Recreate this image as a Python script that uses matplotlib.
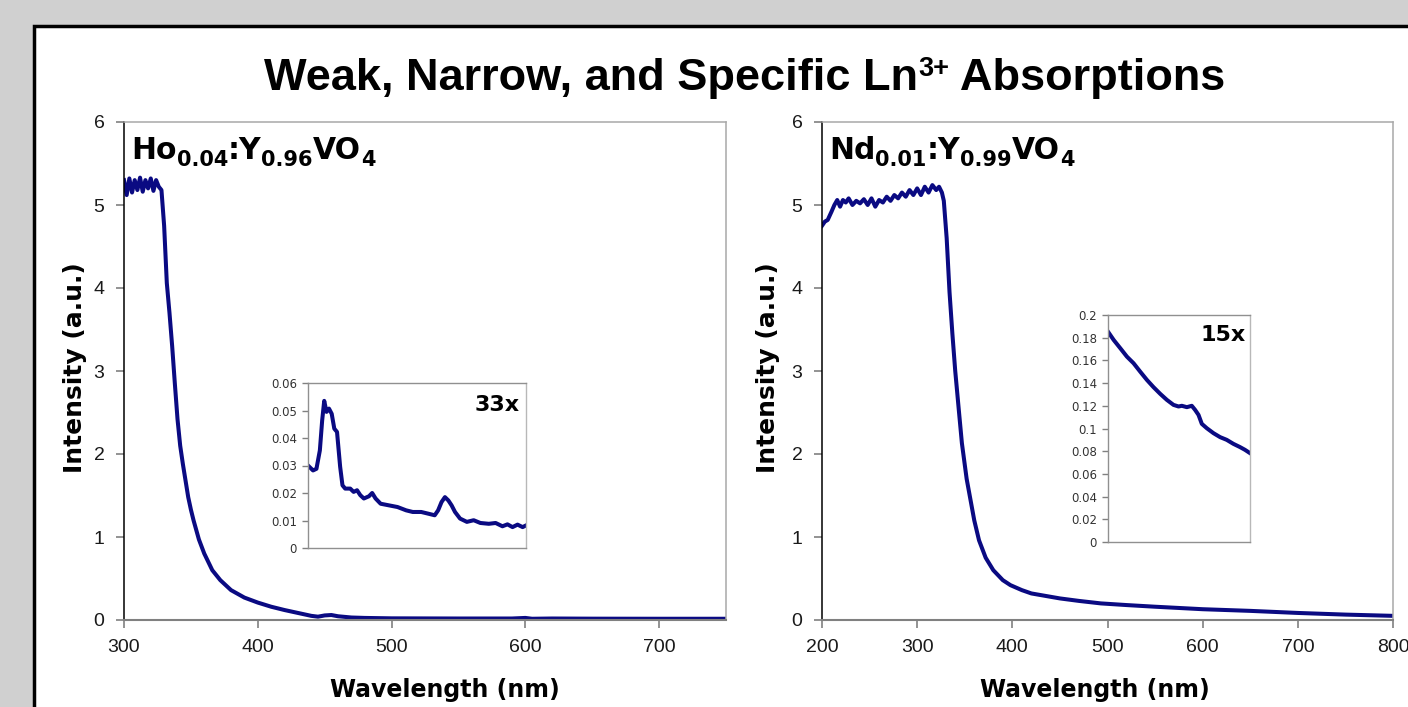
import matplotlib
matplotlib.use("Agg")
import matplotlib.pyplot as plt
from matplotlib.patches import Rectangle
from matplotlib.ticker import FuncFormatter

# ---------------- data ----------------
title_parts = [("Weak, Narrow, and Specific Ln", 0), ("3+", 1), (" Absorptions", 0)]
ho_label_parts = [("Ho", 0), ("0.04", -1), (":Y", 0), ("0.96", -1), ("VO", 0), ("4", -1)]
nd_label_parts = [("Nd", 0), ("0.01", -1), (":Y", 0), ("0.99", -1), ("VO", 0), ("4", -1)]

ho_wl = [300, 302, 304, 306, 308, 310, 312, 314, 316, 318, 320, 322, 324, 326, 328,
         330, 332, 334, 336, 338, 340, 342, 344, 346, 348, 350, 352, 356, 360, 366,
         372, 380, 390, 400, 410, 420, 430, 440, 445, 450, 455, 460, 470, 480, 500,
         550, 590, 600, 605, 620, 650, 700, 750]
ho_int = [5.30, 5.12, 5.32, 5.15, 5.30, 5.18, 5.33, 5.16, 5.30, 5.20, 5.32, 5.17, 5.30, 5.22, 5.18,
          4.75, 4.06, 3.70, 3.30, 2.85, 2.42, 2.10, 1.88, 1.68, 1.48, 1.33, 1.20, 0.97, 0.80, 0.60,
          0.48, 0.36, 0.27, 0.21, 0.16, 0.12, 0.085, 0.05, 0.04, 0.055, 0.06, 0.045, 0.03, 0.025, 0.02,
          0.018, 0.018, 0.025, 0.015, 0.018, 0.016, 0.015, 0.015]

ho_in_wl = [440, 443.7, 446.2, 448.7, 450.4, 451.9, 453.6, 455.4, 457.4, 459.3, 461.3, 463.6,
            465.3, 467.3, 471, 473.5, 476, 478.4, 481, 484.7, 487.1, 489.6, 493.3, 499.5,
            505.7, 512, 516.9, 523.1, 528.1, 533, 535.5, 538, 540.5, 543, 545.4, 547.9,
            551.6, 556.6, 561.6, 566.5, 572.7, 577.7, 582.7, 586.4, 590.1, 593.8, 597.5, 600]
ho_in_int = [0.0300, 0.0282, 0.0288, 0.0355, 0.0464, 0.0535, 0.0495, 0.0507, 0.0488, 0.0434,
             0.0422, 0.0295, 0.0228, 0.0216, 0.0216, 0.0204, 0.0210, 0.0192, 0.0180, 0.0188,
             0.0200, 0.0180, 0.0161, 0.0155, 0.0149, 0.0137, 0.0131, 0.0131, 0.0125, 0.0119,
             0.0137, 0.0167, 0.0185, 0.0173, 0.0155, 0.0131, 0.0107, 0.0095, 0.0101, 0.0091,
             0.0088, 0.0091, 0.0079, 0.0086, 0.0076, 0.0085, 0.0076, 0.0082]

nd_wl = [200, 203, 206, 210, 213, 216, 219, 222, 225, 228, 232, 236, 240, 244, 248, 252,
         256, 260, 264, 268, 272, 276, 280, 284, 288, 292, 296, 300, 304, 308, 312, 316,
         320, 323, 326, 328, 331, 334, 337, 340, 344, 347, 352, 356, 360, 365, 372, 380,
         390, 398, 410, 420, 430, 450, 470, 493, 520, 550, 600, 650, 700, 750, 800]
nd_int = [4.75, 4.80, 4.82, 4.92, 5.00, 5.06, 4.98, 5.06, 5.03, 5.08, 5.00, 5.05, 5.02, 5.07, 5.00, 5.08,
          4.98, 5.06, 5.03, 5.10, 5.05, 5.12, 5.08, 5.15, 5.10, 5.18, 5.12, 5.20, 5.12, 5.22, 5.15, 5.24,
          5.18, 5.22, 5.15, 5.05, 4.60, 3.95, 3.45, 3.00, 2.50, 2.13, 1.70, 1.45, 1.20, 0.96, 0.75, 0.60,
          0.48, 0.42, 0.36, 0.32, 0.30, 0.26, 0.23, 0.20, 0.18, 0.16, 0.13, 0.11, 0.085, 0.065, 0.05]

nd_in_wl = [500, 506, 513, 520, 527, 534, 541.1, 548.1, 555.2, 562.2, 569.2, 574.5, 578,
            583.3, 588.5, 592, 595.6, 599.1, 604.3, 611.4, 618.4, 625.4, 632.4, 639.5, 644.7, 650]
nd_in_int = [0.1853, 0.1780, 0.1707, 0.1633, 0.1575, 0.1501, 0.1428, 0.1364, 0.1305, 0.1252,
             0.1208, 0.1194, 0.1200, 0.1188, 0.1200, 0.1164, 0.1120, 0.1041, 0.1003, 0.0959,
             0.0924, 0.0900, 0.0865, 0.0836, 0.0812, 0.0783]

ho_xticks = [300, 400, 500, 600, 700]
nd_xticks = [200, 300, 400, 500, 600, 700, 800]
main_yticks = [0, 1, 2, 3, 4, 5, 6]
ho_in_yticks = [0, 0.01, 0.02, 0.03, 0.04, 0.05, 0.06]
nd_in_yticks = [0, 0.02, 0.04, 0.06, 0.08, 0.1, 0.12, 0.14, 0.16, 0.18, 0.2]

# ---------------- figure ----------------
W, H = 1408, 707
fig = plt.figure(figsize=(W / 100, H / 100), dpi=100)
fig.patch.set_facecolor('#d0d0d0')

def fx(px):
    return px / W

def fy(py):
    return 1 - py / H

# white panel with black border
fig.patches.append(Rectangle((fx(34), fy(730)), fx(1420 - 34), (730 - 26) / H,
                             transform=fig.transFigure, facecolor='white',
                             edgecolor='black', linewidth=2.5, zorder=-5))

LINE = '#0a0a82'
LW = 2.9

def ax_rect(x0, y0, x1, y1):
    return [fx(x0), fy(y1), (x1 - x0) / W, (y1 - y0) / H]

def style_main(ax):
    ax.set_facecolor('none')
    ax.spines['top'].set_color('#a8a8a8')
    ax.spines['right'].set_color('#a8a8a8')
    ax.spines['left'].set_color('black')
    ax.spines['bottom'].set_color('#808080')
    ax.spines['bottom'].set_linewidth(1.5)
    for s in ['top', 'right', 'left']:
        ax.spines[s].set_linewidth(1.1)
    ax.set_ylim(0, 6)
    ax.set_yticks(main_yticks)
    ax.tick_params(direction='out', length=6, width=1.2, color='#808080',
                   labelsize=14, labelcolor='#1a1a1a', pad=8,
                   labelfontfamily='Liberation Sans')

def style_inset(ax, yticks, ymax):
    for s in ax.spines.values():
        s.set_color('#909090')
        s.set_linewidth(1.0)
    ax.spines['right'].set_color('#b8b8b8')
    ax.set_ylim(0, ymax)
    ax.set_yticks(yticks)
    ax.yaxis.set_major_formatter(FuncFormatter(lambda v, p: '%g' % round(v, 3)))
    ax.set_xticks([])
    ax.tick_params(axis='y', direction='out', length=4, width=1, color='#808080',
                   labelsize=8.5, labelcolor='#333333', pad=4)

# left main
axL = fig.add_axes(ax_rect(124, 122, 726, 620))
axL.plot(ho_wl, ho_int, color=LINE, lw=LW, solid_joinstyle='round')
axL.set_xlim(300, 750)
axL.set_xticks(ho_xticks)
style_main(axL)

# right main
axR = fig.add_axes(ax_rect(822, 122, 1393, 620))
axR.plot(nd_wl, nd_int, color=LINE, lw=LW, solid_joinstyle='round')
axR.set_xlim(200, 800)
axR.set_xticks(nd_xticks)
style_main(axR)

# insets
axLi = fig.add_axes(ax_rect(308, 383, 526, 548))
axLi.plot(ho_in_wl, ho_in_int, color=LINE, lw=LW, solid_joinstyle='round')
axLi.set_xlim(440, 600)
style_inset(axLi, ho_in_yticks, 0.06)
axLi.text(0.97, 0.93, '33x', transform=axLi.transAxes, ha='right', va='top',
          fontsize=16, fontweight='bold', family='DejaVu Sans')

axRi = fig.add_axes(ax_rect(1108, 315, 1250, 542))
axRi.plot(nd_in_wl, nd_in_int, color=LINE, lw=LW, solid_joinstyle='round')
axRi.set_xlim(500, 650)
style_inset(axRi, nd_in_yticks, 0.2)
axRi.text(0.97, 0.955, '15x', transform=axRi.transAxes, ha='right', va='top',
          fontsize=16, fontweight='bold', family='DejaVu Sans')

# ---- rich text helper (sub/superscripts as separate text pieces) ----
renderer = fig.canvas.get_renderer()

def rich_text(parts, x_px, y_px, size, family, shift_px, small=0.62, ha='left'):
    widths = []
    for s, lvl in parts:
        fs = size if lvl == 0 else size * small
        t = fig.text(0, 0, s, fontsize=fs, fontweight='bold', family=family)
        bb = t.get_window_extent(renderer)
        widths.append(bb.width)
        t.remove()
    total = sum(widths)
    x = x_px - (total / 2 if ha == 'center' else 0)
    for (s, lvl), w in zip(parts, widths):
        fs = size if lvl == 0 else size * small
        yy = y_px - lvl * shift_px
        fig.text(fx(x), fy(yy), s, fontsize=fs, fontweight='bold', family=family,
                 ha='left', va='baseline')
        x += w

# title
rich_text(title_parts, 745, 90, 32.5, 'Liberation Sans', 14, small=0.6, ha='center')

# panel labels
rich_text(ho_label_parts, 131, 159, 21.5, 'DejaVu Sans', 6.5, small=0.7)
rich_text(nd_label_parts, 829, 159, 21.5, 'DejaVu Sans', 6.5, small=0.7)

# axis labels
for xc in (75, 768):
    fig.text(fx(xc), fy(368), 'Intensity (a.u.)', rotation=90, ha='center', va='center',
             fontsize=18, fontweight='bold', family='DejaVu Sans')
for xc in (445, 1095):
    fig.text(fx(xc), fy(690), 'Wavelength (nm)', ha='center', va='center',
             fontsize=17, fontweight='bold', family='DejaVu Sans')

fig.savefig('out.png', dpi=100, facecolor=fig.get_facecolor())
